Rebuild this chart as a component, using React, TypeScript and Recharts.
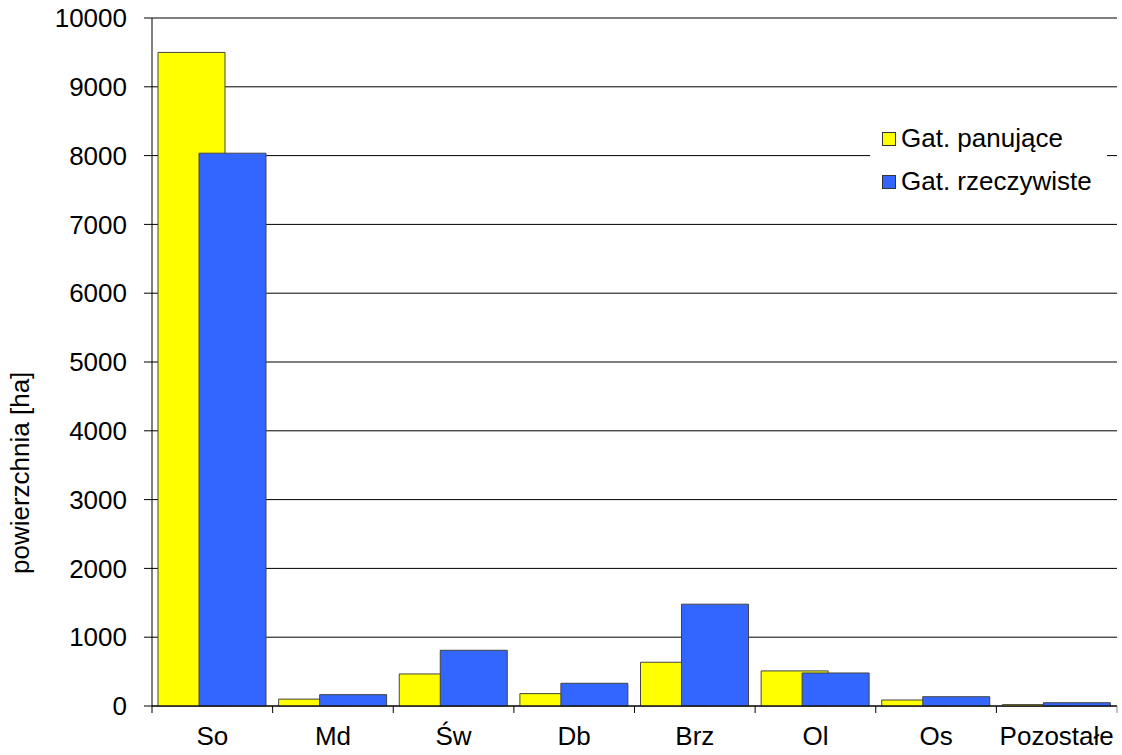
import React from "react"
import { BarChart, Bar, XAxis, YAxis, CartesianGrid } from "recharts"

const categories = ["So", "Md", "Św", "Db", "Brz", "Ol", "Os", "Pozostałe"]
const panujace = [9500, 100, 466, 180, 636, 510, 87, 20]
const rzeczywiste = [8035, 165, 810, 330, 1480, 480, 135, 48]
const yTicks = [0, 1000, 2000, 3000, 4000, 5000, 6000, 7000, 8000, 9000, 10000]
const seriesNames = ["Gat. panujące", "Gat. rzeczywiste"]
const seriesColors = ["#FFFF00", "#3366FF"]

const data = categories.map((name, i) => ({
  name,
  panujace: panujace[i],
  rzeczywiste: rzeczywiste[i],
}))

const W = 1122
const H = 755
const LEFT = 152
const RIGHT = 5
const BAND = (W - LEFT - RIGHT) / categories.length
const FONT = "'Liberation Sans', Arial, sans-serif"
const FS = 26

const XTick = (props: any) => {
  const { x, y, payload, index } = props
  const half = BAND / 2
  return (
    <g>
      <line x1={x - half} x2={x - half} y1={y} y2={y + 7} stroke="#000" />
      {index === categories.length - 1 && (
        <line x1={x + half} x2={x + half} y1={y} y2={y + 7} stroke="#888" />
      )}
      <text x={x} y={y + 39} textAnchor="middle" fontSize={FS} fontFamily={FONT} fill="#000">
        {payload.value}
      </text>
    </g>
  )
}

// legend drawn as an overlay so it doesn't eat plot space
const LegendBox = () => (
  <div
    style={{
      position: "absolute",
      left: 870,
      top: 117,
      background: "#fff",
      width: 237,
      boxSizing: "border-box",
      paddingLeft: 12,
      paddingBottom: 4,
      fontFamily: FONT,
      fontSize: FS,
      color: "#000",
    }}
  >
    {seriesNames.map((n, i) => (
      <div key={n} style={{ display: "flex", alignItems: "center", height: 43 }}>
        <span
          style={{
            display: "inline-block",
            width: 12,
            height: 12,
            background: seriesColors[i],
            border: "1px solid #333",
            marginRight: 5,
          }}
        />
        {n}
      </div>
    ))}
  </div>
)

export default function App() {
  return (
    <div style={{ position: "absolute", left: 0, top: 0, width: W, height: H, background: "#fff" }}>
      <BarChart
        width={W}
        height={H}
        data={data}
        margin={{ top: 18, right: RIGHT, bottom: 0, left: 0 }}
        barSize={67}
        barGap={-26}
      >
        <CartesianGrid vertical={false} stroke="#000" />
        <XAxis
          dataKey="name"
          height={49}
          axisLine={{ stroke: "#000" }}
          tickLine={false}
          tickSize={0}
          tickMargin={0}
          tick={<XTick />}
          interval={0}
        />
        <YAxis
          width={LEFT}
          domain={[0, 10000]}
          ticks={yTicks}
          interval={0}
          axisLine={{ stroke: "#000" }}
          tickLine={{ stroke: "#000" }}
          tickSize={8}
          tickMargin={17}
          tick={{ fontSize: FS, fontFamily: FONT, fill: "#000" }}
          label={{
            value: "powierzchnia [ha]",
            angle: -90,
            position: "insideLeft",
            offset: 0,
            dx: 20,
            dy: 212,
            fontSize: FS,
            fontFamily: FONT,
            fill: "#000",
          }}
        />
        <YAxis
          yAxisId="right"
          orientation="right"
          width={0}
          tick={false}
          tickLine={false}
          axisLine={{ stroke: "#888" }}
        />
        <Bar
          dataKey="panujace"
          name={seriesNames[0]}
          fill={seriesColors[0]}
          stroke="#444"
          isAnimationActive={false}
        />
        <Bar
          dataKey="rzeczywiste"
          name={seriesNames[1]}
          fill={seriesColors[1]}
          stroke="#444"
          isAnimationActive={false}
        />
      </BarChart>
      <LegendBox />
    </div>
  )
}
